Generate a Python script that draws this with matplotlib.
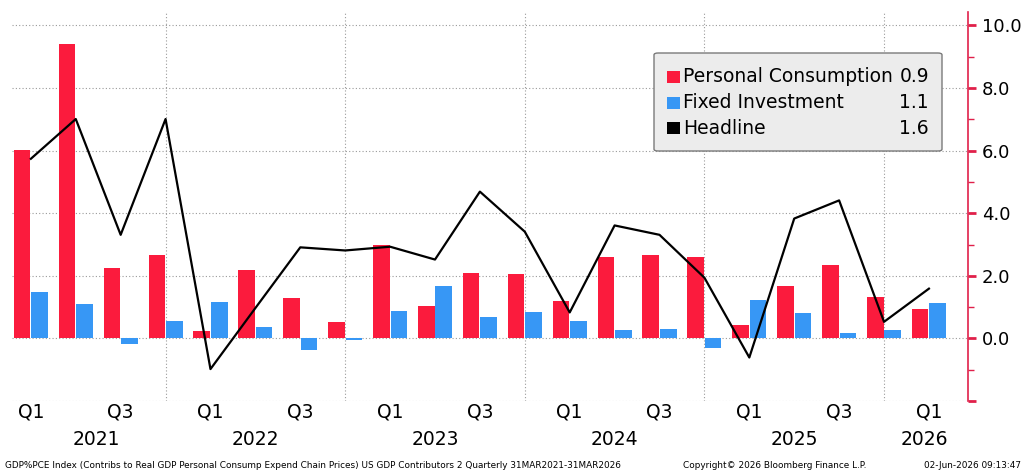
import matplotlib
matplotlib.use("Agg")
import matplotlib.pyplot as plt
from matplotlib.patches import FancyBboxPatch, Rectangle
import matplotlib.transforms as mtransforms

# ---- data ----
quarters = ["Q1", "Q2", "Q3", "Q4"] * 5 + ["Q1"]
years = [2021] * 4 + [2022] * 4 + [2023] * 4 + [2024] * 4 + [2025] * 4 + [2026]
personal_consumption = [6.03, 9.41, 2.25, 2.65, 0.23, 2.19, 1.29, 0.53, 3.00, 1.03, 2.08,
                        2.05, 1.19, 2.61, 2.67, 2.61, 0.42, 1.69, 2.35, 1.32, 0.94]
fixed_investment = [1.49, 1.09, -0.19, 0.56, 1.15, 0.36, -0.38, -0.05, 0.86, 1.66, 0.69,
                    0.83, 0.56, 0.26, 0.30, -0.32, 1.22, 0.80, 0.17, 0.26, 1.13]
headline = [5.74, 7.01, 3.31, 7.01, -0.98, 0.97, 2.91, 2.81, 2.93, 2.52, 4.69,
            3.41, 0.83, 3.61, 3.31, 1.94, -0.61, 3.83, 4.41, 0.53, 1.59]
series_names = ["Personal Consumption", "Fixed Investment", "Headline"]
y_ticks = [-2, 0, 2, 4, 6, 8, 10]
footer_left = ("GDP%PCE Index (Contribs to Real GDP Personal Consump Expend Chain Prices) "
               "US GDP Contributors 2 Quarterly 31MAR2021-31MAR2026")
footer_mid = "Copyright\u00a9 2026 Bloomberg Finance L.P."
footer_right = "02-Jun-2026 09:13:47"

RED = "#fb1b3d"
BLUE = "#3797f5"
AXRED = "#e0204a"
GRID = "#9a9a9a"

plt.rcParams['font.family'] = ['DejaVu Sans']

fig = plt.figure(figsize=(10.26, 4.72), dpi=100)
ax = fig.add_axes([12 / 1026, 1 - 401 / 472, (968 - 12) / 1026, (401 - 12) / 472])

n = len(personal_consumption)
x = list(range(n))
w = 0.37
ax.bar([i - 0.195 for i in x], personal_consumption, width=w, color=RED, zorder=2)
ax.bar([i + 0.195 for i in x], fixed_investment, width=w, color=BLUE, zorder=2)
ax.plot(x, headline, color="black", lw=1.6, zorder=3)

ax.set_xlim(-0.42, 20.87)
ax.set_ylim(-2, 10.43)

# grids
for yv in y_ticks:
    ax.axhline(yv, color=GRID, lw=0.8, ls=(0, (1, 2)), zorder=1)
year_ends = [i for i in x if quarters[i] == "Q4"]
for xv in year_ends:
    ax.axvline(xv, color=GRID, lw=0.8, ls=(0, (1, 2)), zorder=1)

# spines / right axis
for s in ["left", "top", "bottom"]:
    ax.spines[s].set_visible(False)
ax.spines["right"].set_color(AXRED)
ax.spines["right"].set_linewidth(1.2)
ax.yaxis.tick_right()
ax.set_yticks(y_ticks)
ax.set_yticklabels(["" if v < 0 else f"{v:.1f}" for v in y_ticks])
ax.set_yticks([v + 1 for v in y_ticks[:-1]], minor=True)
ax.tick_params(axis="y", which="major", direction="out", length=6, width=2.0,
               color=AXRED, labelsize=13, pad=4, labelcolor="black")
ax.tick_params(axis="y", which="minor", direction="out", length=4, width=1.0,
               color=AXRED)
ax.set_xticks([])

# x labels
trans = ax.get_xaxis_transform()
for i in x:
    if quarters[i] in ("Q1", "Q3"):
        ax.text(i, -0.028, quarters[i], transform=trans, ha="center", va="center",
                fontsize=13.5)
uniq_years = sorted(set(years))
for yr in uniq_years:
    idx = [i for i in x if years[i] == yr]
    lo = max(idx[0] - 1, -0.42 + 1.8)
    hi = min(idx[-1], 20.87)
    if yr == uniq_years[0]:
        pos = 1.47
    elif yr == uniq_years[-1]:
        pos = 19.9
    else:
        pos = (idx[0] - 1 + idx[-1]) / 2
    ax.text(pos, -0.1, str(yr), transform=trans, ha="center", va="center", fontsize=13.5)

# legend (manual)
fig_px = lambda px, py: (px / 1026, 1 - py / 472)
box = FancyBboxPatch(fig_px(654, 151), 288 / 1026, 98 / 472,
                     boxstyle="round,pad=0,rounding_size=0.004",
                     transform=fig.transFigure, facecolor="#ececec", edgecolor="#7a7a7a",
                     lw=1.0, zorder=5)
fig.patches.append(box)
rows_y = [77, 103, 128]
colors = [RED, BLUE, "black"]
last_vals = [personal_consumption[-1], fixed_investment[-1], headline[-1]]
for name, c, v, ry in zip(series_names, colors, last_vals, rows_y):
    fig.patches.append(Rectangle(fig_px(667, ry + 6), 13 / 1026, 12 / 472,
                                 transform=fig.transFigure, facecolor=c, edgecolor="none",
                                 zorder=6))
    fig.text(*fig_px(683, ry), name, ha="left", va="center", fontsize=13.5, zorder=7)
    fig.text(*fig_px(929, ry), f"{v:.1f}", ha="right", va="center", fontsize=13.5, zorder=7)

# footer
fig.text(5 / 1026, 7 / 472, footer_left, fontsize=6.4, ha="left", va="center")
fig.text(683 / 1026, 7 / 472, footer_mid, fontsize=6.4, ha="left", va="center")
fig.text(1021 / 1026, 7 / 472, footer_right, fontsize=6.4, ha="right", va="center")

fig.savefig("out.png", dpi=100)
